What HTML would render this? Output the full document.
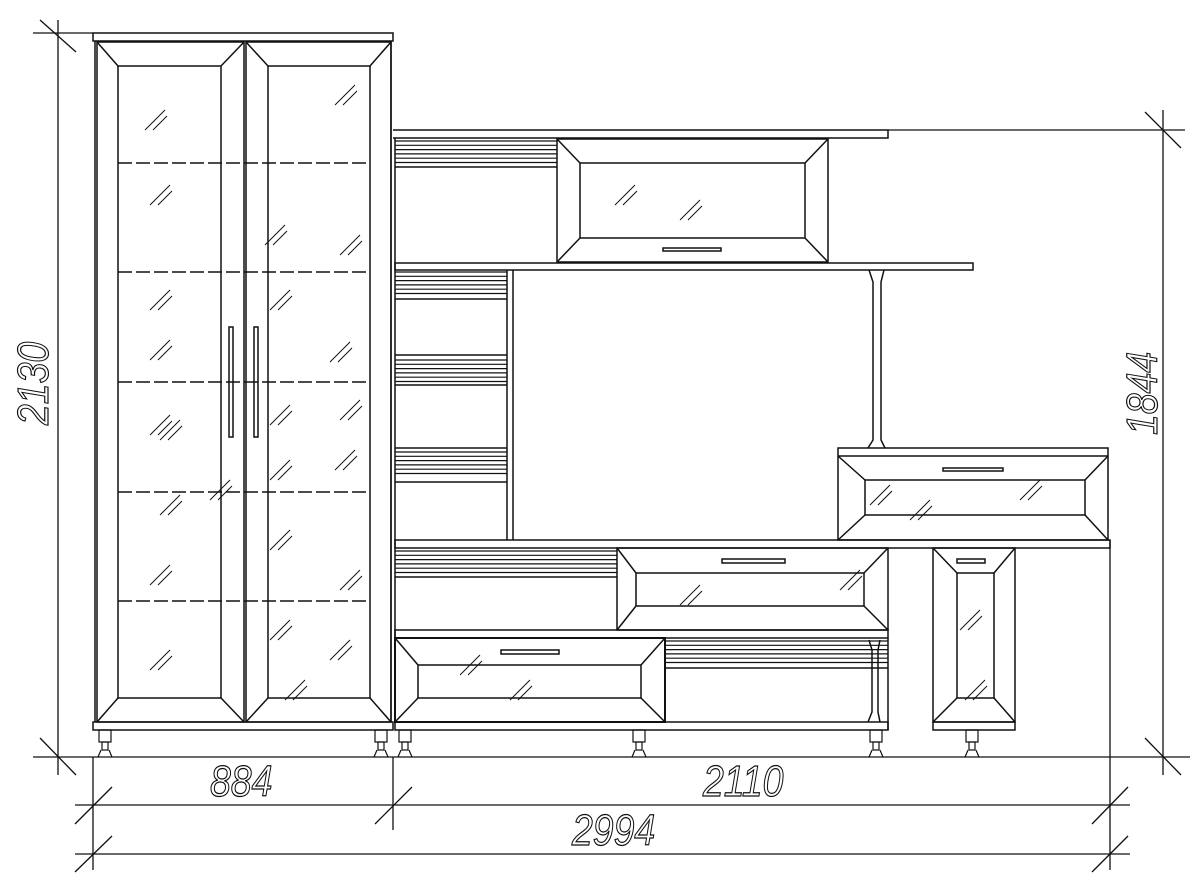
<!DOCTYPE html>
<html><head><meta charset="utf-8"><style>
html,body{margin:0;padding:0;background:#fff;width:1200px;height:883px;overflow:hidden}
svg{display:block}
text{font-family:"Liberation Sans",sans-serif;font-style:italic;font-size:44px;fill:none;stroke:#111;stroke-width:1.2}
</style></head><body>
<svg id="s" width="1200" height="883" viewBox="0 0 1200 883" fill="none" stroke="#111" stroke-width="1.5">
<g stroke-width="1.3">
<line x1="58" y1="20" x2="58" y2="775"/>
<line x1="33" y1="33" x2="93" y2="33"/>
<line x1="33" y1="757" x2="1190" y2="757"/>
<line x1="1163" y1="110" x2="1163" y2="775"/>
<line x1="888" y1="130" x2="1185" y2="130"/>
<line x1="75" y1="805" x2="1130" y2="805"/>
<line x1="75" y1="854" x2="1130" y2="854"/>
<line x1="93" y1="757" x2="93" y2="870"/>
<line x1="393" y1="757" x2="393" y2="830"/>
<line x1="1110" y1="540" x2="1110" y2="870"/>
<line x1="40" y1="20" x2="76" y2="52"/>
<line x1="40" y1="738" x2="76" y2="775"/>
<line x1="1145" y1="112" x2="1181" y2="148"/>
<line x1="1145" y1="738" x2="1181" y2="775"/>
<line x1="75" y1="824" x2="112" y2="787"/>
<line x1="375" y1="824" x2="412" y2="787"/>
<line x1="1092" y1="824" x2="1128" y2="787"/>
<line x1="75" y1="872" x2="112" y2="836"/>
<line x1="1092" y1="872" x2="1128" y2="836"/>
</g>
<text transform="translate(210,796) scale(0.85,1)">884</text>
<text transform="translate(703,796) scale(0.85,1)">2110</text>
<text transform="translate(572,845) scale(0.85,1)">2994</text>
<text transform="translate(48,425) rotate(-90) scale(0.85,1)">2130</text>
<text transform="translate(1157,435) rotate(-90) scale(0.85,1)">1844</text>

<rect x="93" y="33" width="300" height="8"/>
<line x1="95" y1="41" x2="95" y2="722"/><line x1="391" y1="41" x2="391" y2="722"/>
<rect x="97" y="42" width="147" height="680"/>
<rect x="246" y="42" width="145" height="680"/>
<rect x="118" y="66" width="103" height="632"/>
<rect x="268" y="66" width="102" height="632"/>
<line x1="97" y1="42" x2="118" y2="66"/><line x1="244" y1="42" x2="221" y2="66"/>
<line x1="97" y1="722" x2="118" y2="698"/><line x1="244" y1="722" x2="221" y2="698"/>
<line x1="246" y1="42" x2="268" y2="66"/><line x1="391" y1="42" x2="370" y2="66"/>
<line x1="246" y1="722" x2="268" y2="698"/><line x1="391" y1="722" x2="370" y2="698"/>
<g stroke-dasharray="14,4">
<line x1="118" y1="163" x2="370" y2="163"/><line x1="118" y1="272" x2="370" y2="272"/>
<line x1="118" y1="382" x2="370" y2="382"/><line x1="118" y1="492" x2="370" y2="492"/>
<line x1="118" y1="601" x2="370" y2="601"/>
</g>
<rect x="229" y="327" width="4" height="110"/><rect x="254" y="327" width="4" height="110"/>
<rect x="93" y="722" width="300" height="8"/>

<polyline points="393,130 888,130 888,138 393,138"/>
<rect x="557" y="139" width="271" height="123"/>
<rect x="580" y="163" width="225" height="75"/>
<line x1="557" y1="139" x2="580" y2="163"/><line x1="828" y1="139" x2="805" y2="163"/>
<line x1="557" y1="262" x2="580" y2="238"/><line x1="828" y1="262" x2="805" y2="238"/>
<rect x="663" y="248" width="58" height="3"/>
<rect x="395" y="263" width="578" height="7"/>
<line x1="395" y1="138" x2="395" y2="722"/>
<line x1="507" y1="270" x2="507" y2="540"/><line x1="513" y1="270" x2="513" y2="540"/>
<line x1="395" y1="167" x2="557" y2="167"/>
<line x1="395" y1="299" x2="507" y2="299"/><line x1="395" y1="385" x2="507" y2="385"/>
<line x1="395" y1="355" x2="507" y2="355"/><line x1="395" y1="448" x2="507" y2="448"/><line x1="395" y1="482" x2="507" y2="482"/>
<polyline points="869,270 873,282 873,440 868,448"/><polyline points="884,270 881,282 881,440 885,448"/>
<rect x="838" y="448" width="270" height="92"/>
<line x1="838" y1="456" x2="1108" y2="456"/>
<rect x="865" y="480" width="220" height="35"/>
<line x1="838" y1="456" x2="865" y2="480"/><line x1="1108" y1="456" x2="1085" y2="480"/>
<line x1="838" y1="540" x2="865" y2="515"/><line x1="1108" y1="540" x2="1085" y2="515"/>
<rect x="943" y="468" width="60" height="3"/>
<rect x="395" y="540" width="715" height="8"/>
<rect x="617" y="548" width="271" height="82"/>
<rect x="636" y="573" width="228" height="33"/>
<line x1="617" y1="548" x2="636" y2="573"/><line x1="888" y1="548" x2="864" y2="573"/>
<line x1="617" y1="630" x2="636" y2="606"/><line x1="888" y1="630" x2="864" y2="606"/>
<rect x="722" y="559" width="63" height="4"/>
<line x1="395" y1="577" x2="617" y2="577"/>
<rect x="395" y="630" width="493" height="8"/>
<rect x="395" y="638" width="270" height="84" stroke-width="2"/>
<rect x="418" y="665" width="223" height="33"/>
<line x1="395" y1="638" x2="418" y2="665"/><line x1="665" y1="638" x2="641" y2="665"/>
<line x1="395" y1="722" x2="418" y2="698"/><line x1="665" y1="722" x2="641" y2="698"/>
<rect x="501" y="650" width="58" height="4"/>
<line x1="665" y1="668" x2="888" y2="668"/>
<line x1="888" y1="638" x2="888" y2="730"/>
<polyline points="869,640 872,650 872,712 868,722"/><polyline points="880,640 878,650 878,712 880,722"/>
<rect x="395" y="722" width="493" height="8"/>
<rect x="933" y="548" width="82" height="174"/>
<rect x="957" y="573" width="37" height="125"/>
<line x1="933" y1="548" x2="957" y2="573"/><line x1="1015" y1="548" x2="994" y2="573"/>
<line x1="933" y1="722" x2="957" y2="698"/><line x1="1015" y1="722" x2="994" y2="698"/>
<rect x="957" y="559" width="28" height="4"/>
<rect x="933" y="722" width="82" height="8"/>
<g id="stripes" stroke-width="1.2"></g>
<g id="legs" stroke-width="1.2"></g>
<g id="hatch" stroke-width="1"></g>
</svg>
<script>
var ns="http://www.w3.org/2000/svg";
function L(g,a,b,c,d){var l=document.createElementNS(ns,"line");l.setAttribute("x1",a);l.setAttribute("y1",b);l.setAttribute("x2",c);l.setAttribute("y2",d);document.getElementById(g).appendChild(l);}
function R(g,x,y,w,h){var r=document.createElementNS(ns,"rect");r.setAttribute("x",x);r.setAttribute("y",y);r.setAttribute("width",w);r.setAttribute("height",h);document.getElementById(g).appendChild(r);}
[[395,557,141],[395,507,272],[395,507,360],[395,507,452],[395,617,551],[665,888,641]].forEach(function(s){for(var i=0;i<6;i++){var y=s[2]+i*4.3;L("stripes",s[0],y,s[1],y);}});
[105,381,405,639,876,972].forEach(function(x){R("legs",x-6,730,12,12);R("legs",x-3,742,6,8);L("legs",x-7,757,x-4,750);L("legs",x+7,757,x+4,750);});
var h=[[155,120],[345,95],[625,195],[690,210],[275,235],[160,195],[350,245],[160,300],[280,300],[160,350],[340,352],[160,425],[280,415],[350,410],[170,505],[280,470],[345,460],[160,575],[280,540],[350,580],[160,660],[280,630],[340,650],[295,690],[220,490],[880,495],[1030,490],[920,510],[690,595],[850,580],[170,430],[520,690],[470,665],[970,620],[975,690]];
h.forEach(function(p){var x=p[0],y=p[1];L("hatch",x-10,y+10,x+10,y-10);L("hatch",x-2,y+10,x+12,y-4);});
</script>
</body></html>
